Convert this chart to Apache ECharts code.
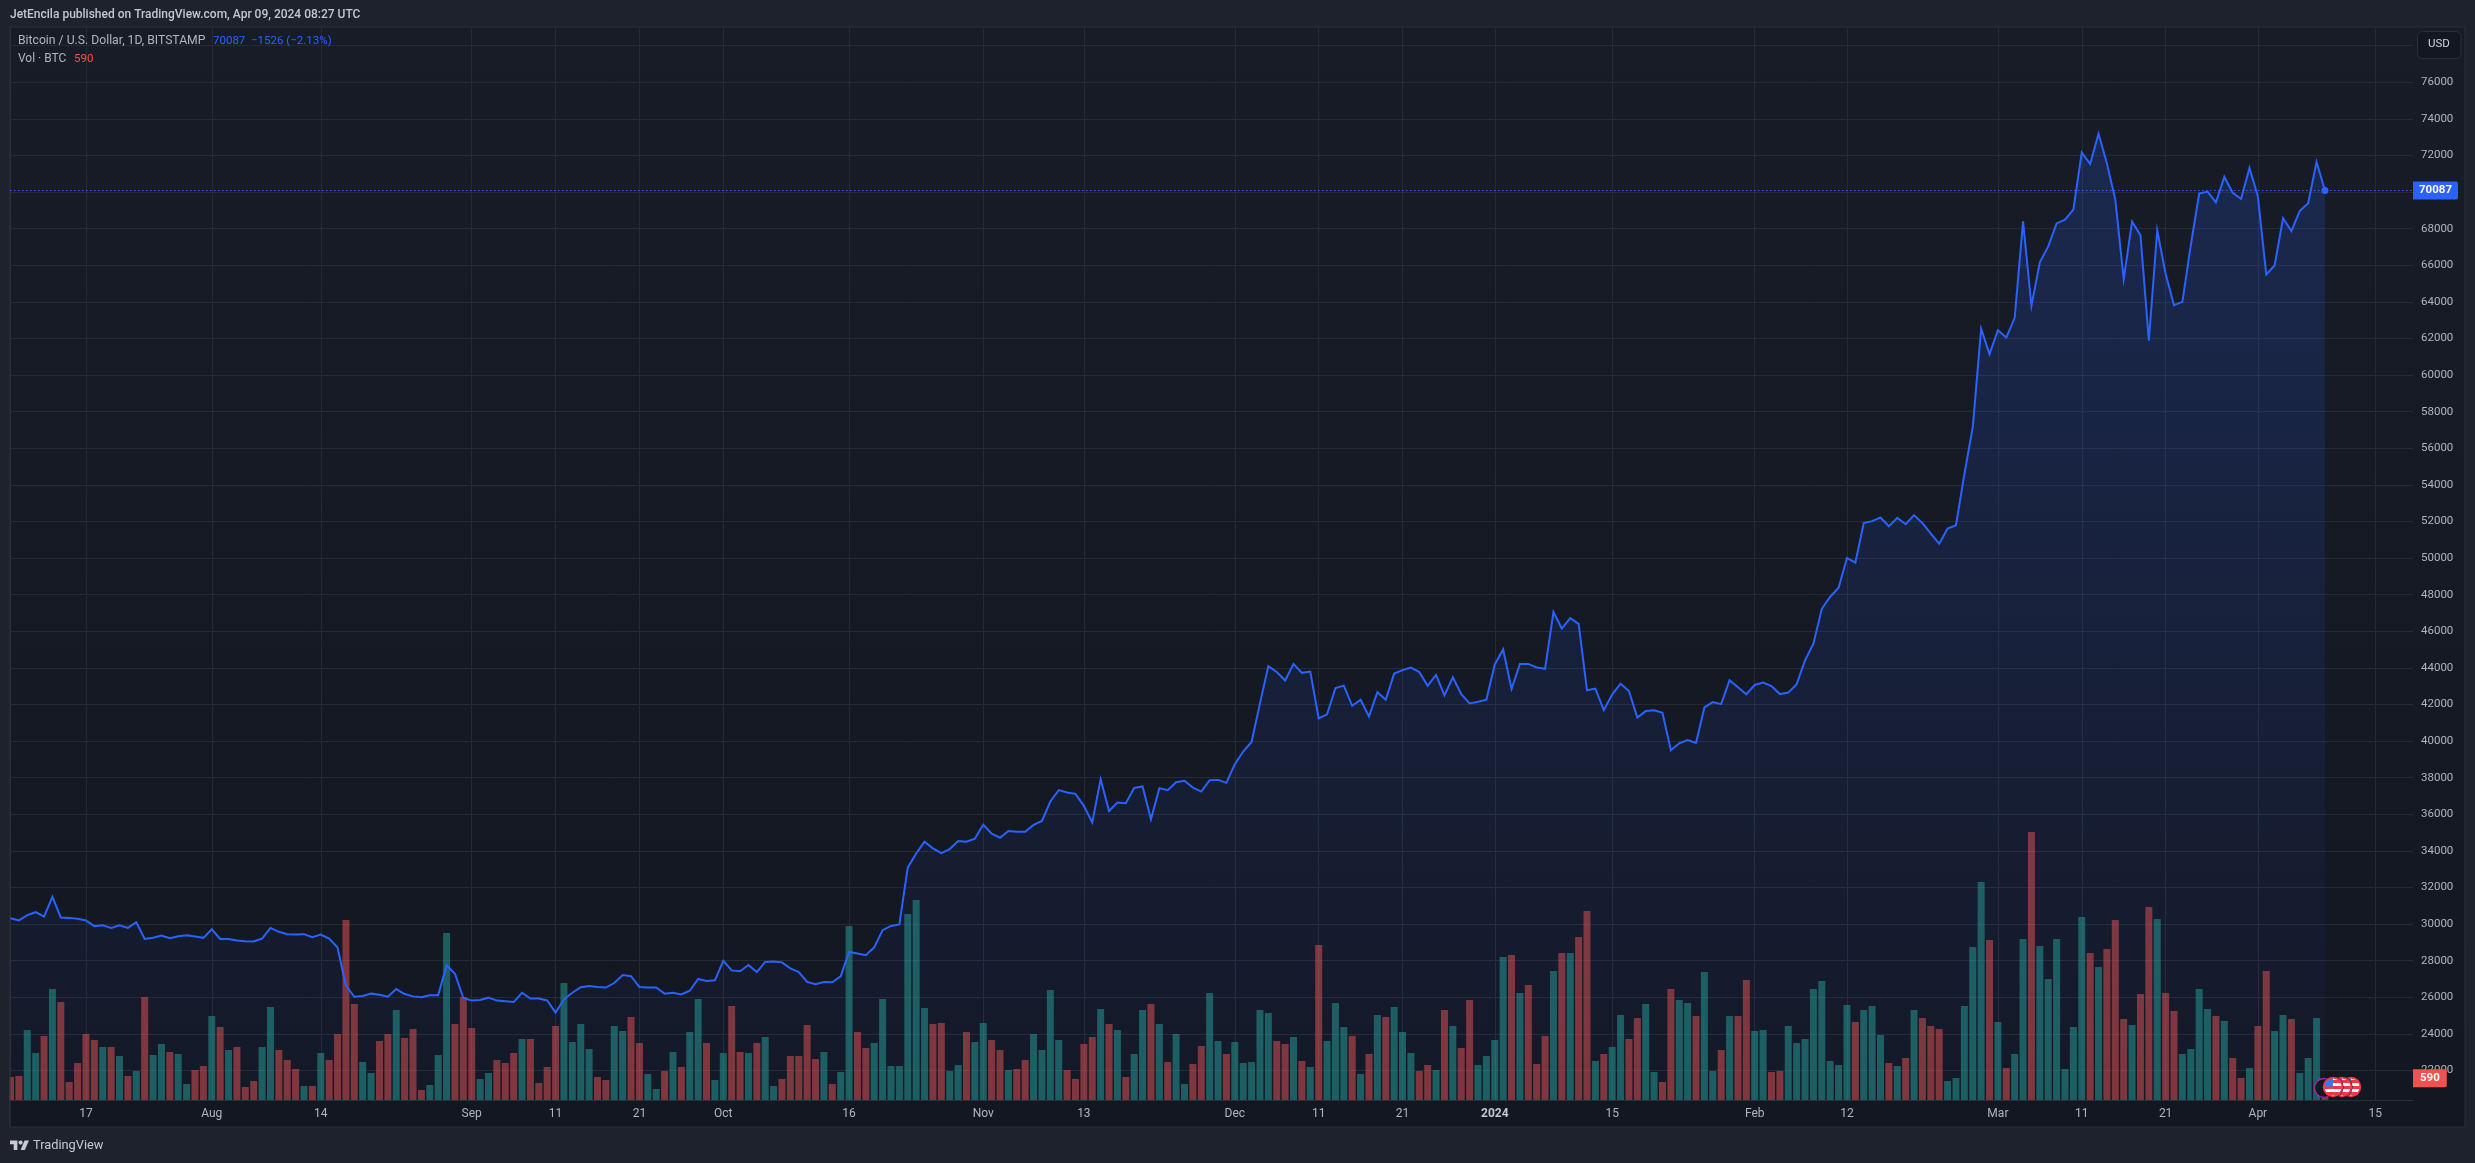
<!DOCTYPE html>
<html>
<head>
<meta charset="utf-8">
<style>html,body{margin:0;padding:0;background:#1e222d;}#c{width:2475px;height:1163px;}</style>
<script src="https://cdn.jsdelivr.net/npm/echarts@6/dist/echarts.min.js"></script>
</head>
<body>
<div id="c"></div>
<script>
const priceTicks = [22000,24000,26000,28000,30000,32000,34000,36000,38000,40000,42000,44000,46000,48000,50000,52000,54000,56000,58000,60000,62000,64000,66000,68000,70000,72000,74000,76000,78000];
const dayTicks = [9,24,37,55,65,75,85,100,116,128,146,156,166,177,191,208,219,237,247,257,268,282];
const dayLabels = ['17','Aug','14','Sep','11','21','Oct','16','Nov','13','Dec','11','21','2024','15','Feb','12','Mar','11','21','Apr','15'];
const closes = [
30320,30200,30490,30650,30410,31490,30360,30340,30290,30200,
29890,29940,29790,29940,29790,30100,29190,29250,29370,29230,
29340,29390,29320,29250,29720,29190,29190,29100,29060,29050,
29210,29790,29580,29450,29430,29450,29280,29430,29210,28720,
26640,26030,26070,26200,26140,26030,26450,26180,26050,26000,
26110,26110,27750,27290,25960,25820,25850,25980,25820,25780,
25740,26250,25930,25930,25830,25160,25890,26250,26550,26620,
26560,26530,26780,27220,27150,26560,26540,26540,26200,26250,
26160,26360,27000,26890,26930,27990,27470,27420,27770,27380,
27930,27950,27910,27580,27380,26840,26710,26840,26820,27150,
28480,28390,28300,28730,29670,29900,29980,33100,33860,34500,
34140,33880,34100,34540,34500,34670,35440,34940,34720,35090,
35050,35050,35420,35640,36700,37320,37190,37120,36460,35560,
37920,36180,36640,36600,37440,37520,35730,37430,37320,37750,
37830,37460,37240,37860,37880,37720,38740,39430,39950,42060,
44100,43780,43310,44220,43730,43800,41240,41460,42900,43030,
41930,42260,41350,42670,42260,43690,43880,44020,43770,43030,
43620,42500,43490,42570,42060,42150,42260,44190,45010,42850,
44220,44220,44020,43950,47050,46150,46720,46410,42780,42870,
41690,42540,43140,42740,41290,41640,41680,41550,39500,39880,
40060,39900,41840,42130,42020,43330,42940,42560,43070,43200,
43010,42570,42650,43110,44410,45320,47230,47890,48380,50010,
49750,51910,52020,52220,51740,52200,51850,52350,51910,51340,
50790,51620,51800,54590,57150,62530,61150,62450,62050,63130,
68400,63780,66160,67030,68290,68490,69040,72160,71530,73190,
71560,69590,65240,68390,67650,61880,67910,65540,63820,64000,
67090,69920,70030,69440,70830,69960,69630,71320,69770,65500,
65990,68570,67870,68970,69390,71650,70087];
const volumes = [
621,648,1890,1269,1728,2997,2646,486,999,1782,
1620,1431,1431,1188,648,783,2781,1215,1512,1296,
1242,432,810,918,2268,1971,1350,1431,351,513,
1431,2511,1350,1080,837,378,378,1269,1080,1782,
4860,2592,1026,729,1593,1782,2430,1674,1917,270,
405,1215,4509,2052,2781,1944,567,729,1080,999,
1269,1647,1647,459,891,1998,3159,1566,2052,1377,
621,540,1998,1863,2241,1539,702,297,783,1296,
891,1836,2727,1539,540,1269,2538,1296,1269,1539,
1701,378,567,1188,1188,2025,1107,1296,432,756,
4698,1836,1404,1539,2727,918,918,5022,5400,2484,
2052,2079,783,945,1836,1566,2079,1620,1350,810,
837,1080,1782,1350,2970,1620,810,567,1512,1701,
2457,2052,1890,621,1242,2430,2592,2052,1026,1782,
432,972,1458,2889,1593,1242,1566,999,1026,2430,
2349,1593,1512,1701,1053,891,4185,1593,2619,1971,
1728,702,1242,2295,2241,2511,1836,1269,783,945,
810,2430,1998,1404,2700,945,1188,1620,3861,3915,
2889,3105,972,1728,3483,3969,3969,4401,5103,1053,
1242,1431,2295,1647,2214,2592,756,486,2997,2700,
2619,2268,3456,783,1350,2268,2268,3240,1863,1890,
756,783,1998,1539,1647,2997,3213,1053,945,2565,
2106,2430,2538,1755,999,918,1134,2430,2214,1998,
1917,513,594,2538,4131,5886,4320,2106,864,1242,
4347,7236,4158,3267,4347,837,1971,4941,3969,3591,
4077,4860,2187,2025,2862,5211,4887,2889,2403,1242,
1377,2997,2457,2268,2133,1134,594,864,1998,3483,
1863,2295,2187,729,1134,2214,590];
const volumeSides = (
'rrggrgrrrr'+'rgrgrgrggr'+'ggrrgrgrrr'+'ggrrrgrgrr'+'rrggrrgrrr'+'gggrrrggrr'+'rgrrrrgggg'+
'rrggrrggrg'+'rggrggrrgr'+'ggrrrrrgrg'+'grrggggggg'+'rrggrggrrg'+'rrggggrrrr'+'grgrggrgrg'+
'grrggrgggg'+'grrgrgrggg'+'rgrgrgggrr'+'grgrrggggr'+'grrrgrgrrg'+'rggrrggrrg'+'grggrgrrgg'+
'rrgggggggg'+'rgggrgrgrr'+'rgggggrgrg'+'grggggggrg'+'rrrgrrgrrg'+'gggrgrrgrr'+'ggrgggr').split('');
const lastPrice = 70087, lastVolume = 590;

const FONT = 'Roboto, "Liberation Sans", sans-serif';
const TXT = '#b2b5be';
const GRID = '#262a36';
const BLUE = '#2962ff';
const RED = '#ef5350';
const flagSvg = 'data:image/svg+xml,' + encodeURIComponent(
 '<svg xmlns="http://www.w3.org/2000/svg" width="22" height="22" viewBox="0 0 22 22"><defs><clipPath id="a"><circle cx="11" cy="11" r="9"/></clipPath></defs>'+
 '<circle cx="11" cy="11" r="10.6" fill="#131722"/><g clip-path="url(#a)"><rect width="22" height="22" fill="#fff"/>'+
 '<rect y="4" width="22" height="3" fill="#f23645"/><rect y="10" width="22" height="3" fill="#f23645"/><rect y="16" width="22" height="3" fill="#f23645"/>'+
 '<rect width="11" height="10.5" fill="#2f7fe8"/></g><circle cx="11" cy="11" r="9.4" fill="none" stroke="#f23645" stroke-width="1.6"/></svg>');
const txt = (x,y,text,fill,size,extra) => ({type:'text',x,y,z:50,silent:true,style:Object.assign({text,fill,font:`${size||11.5}px ${FONT}`,textVerticalAlign:'middle'},extra||{})});

const chart = echarts.init(document.getElementById('c'),null,{renderer:'canvas',width:2475,height:1163});
chart.setOption({
  animation:false,
  backgroundColor:'#1e222d',
  grid:{left:10,right:62,top:27,bottom:63,containLabel:false},
  xAxis:{
    type:'value',min:-0.06,max:286.5,
    axisLine:{show:true,lineStyle:{color:'#2a2e39'}},
    axisTick:{show:false,customValues:dayTicks},
    splitLine:{show:true,lineStyle:{color:GRID,width:1}},
    axisLabel:{
      customValues:dayTicks,color:TXT,fontFamily:FONT,fontSize:12,margin:8,
      formatter:v=>{const l=dayLabels[dayTicks.indexOf(v)];return l==='2024'?'{b|2024}':l;},
      rich:{b:{fontWeight:'bold',color:'#c4c7cf',fontFamily:FONT,fontSize:12}}
    }
  },
  yAxis:[{
    type:'value',position:'right',min:20388,max:79022,
    axisLine:{show:true,lineStyle:{color:'#2a2e39'}},
    axisTick:{show:false,customValues:priceTicks},
    splitLine:{show:true,lineStyle:{color:GRID,width:1}},
    axisLabel:{customValues:priceTicks,color:TXT,fontFamily:FONT,fontSize:11.5,margin:8,
      formatter:v=>v===78000?'':String(v)}
  },{
    type:'value',position:'left',min:0,max:28971,show:false,splitLine:{show:false}
  }],
  series:[{
    type:'bar',name:'Vol',yAxisIndex:1,barWidth:7,z:2,clip:true,
    data:volumes.map((v,i)=>({value:[i,v],itemStyle:{color:volumeSides[i]==='g'?'rgba(38,166,154,0.5)':'rgba(239,83,80,0.5)'}})),
    markLine:{silent:true,symbol:'none',animation:false,lineStyle:{color:'rgba(0,0,0,0)',width:1},
      data:[{yAxis:lastVolume}],
      label:{show:true,position:'end',distance:0,formatter:String(lastVolume),color:'#fff',fontFamily:FONT,fontSize:11.5,fontWeight:'bold',
        backgroundColor:RED,padding:[3,7,3,7],borderRadius:[0,2,2,0]}}
  },{
    type:'line',name:'BTCUSD',yAxisIndex:0,z:5,showSymbol:false,symbol:'none',
    data:closes.map((v,i)=>[i,v]),
    lineStyle:{color:BLUE,width:2,join:'miter'},
    areaStyle:{origin:'start',color:new echarts.graphic.LinearGradient(0,0,0,1,[
      {offset:0,color:'rgba(41,98,255,0.27)'},{offset:1,color:'rgba(41,98,255,0.03)'}])},
    markLine:{silent:true,symbol:'none',animation:false,lineStyle:{color:BLUE,type:[1.5,2.5],width:1},
      data:[{yAxis:lastPrice}],
      label:{show:true,position:'end',distance:0,formatter:String(lastPrice),color:'#fff',fontFamily:FONT,fontSize:11.5,fontWeight:'bold',
        backgroundColor:BLUE,padding:[3,6,3,6],borderRadius:[0,2,2,0]}},
    markPoint:{silent:true,animation:false,symbol:'circle',symbolSize:7,itemStyle:{color:BLUE},label:{show:false},
      data:[{coord:[closes.length-1,lastPrice]}]}
  }],
  graphic:[
    {type:'rect',z:-100,silent:true,shape:{x:10,y:27,width:2455,height:1100},
      style:{fill:new echarts.graphic.LinearGradient(0,0,0,1,[{offset:0,color:'#181c27'},{offset:1,color:'#131722'}]),stroke:'#2a2e39',lineWidth:1}},
    {type:'rect',z:40,silent:true,shape:{x:0,y:1000,width:9.5,height:127},style:{fill:'#1e222d'}},
    {type:'line',z:40,silent:true,shape:{x1:10,y1:1000,x2:10,y2:1127},style:{stroke:'#2a2e39',lineWidth:1}},
    {type:'rect',z:50,silent:true,shape:{x:2417.5,y:31.5,width:43.5,height:27,r:5},style:{fill:'#131722',stroke:'#2a2e39',lineWidth:1}},
    txt(2439,44.5,'USD','#d1d4dc',11.5,{textAlign:'center'}),
    txt(10,14.5,'JetEncila published on TradingView.com, Apr 09, 2024 08:27 UTC','#c4c7cf',12,{font:`500 12px ${FONT}`}),
    txt(18,41,'Bitcoin / U.S. Dollar, 1D, BITSTAMP',TXT,12.2),
    txt(213,41,'70087  −1526 (−2.13%)',BLUE,11.5),
    txt(18,59,'Vol · BTC',TXT,12),
    txt(74,59,'590',RED,11.5),
    {type:'polygon',z:50,silent:true,shape:{points:[[10,1140.5],[17.4,1140.5],[17.4,1150],[13.7,1150],[13.7,1144.2],[10,1144.2]]},style:{fill:'#c8cad0'}},
    {type:'polygon',z:50,silent:true,shape:{points:[[24.5,1140.5],[29,1140.5],[24.8,1150],[20.6,1150]]},style:{fill:'#c8cad0'}},
    {type:'circle',z:50,silent:true,shape:{cx:20.6,cy:1142.6,r:2.1},style:{fill:'#c8cad0'}},
    txt(33,1145.5,'TradingView','#c8cad0',12.8,{font:`12.8px ${FONT}`}),
    {type:'circle',z:60,silent:true,shape:{cx:2324,cy:1088,r:9.5},style:{fill:'#131722',stroke:'#9c27b0',lineWidth:1.4}},
    {type:'image',z:61,silent:true,style:{image:flagSvg,x:2340,y:1076,width:22,height:22}},
    {type:'image',z:62,silent:true,style:{image:flagSvg,x:2331,y:1076,width:22,height:22}},
    {type:'image',z:63,silent:true,style:{image:flagSvg,x:2322,y:1076,width:22,height:22}}
  ]
});
</script>
</body>
</html>
